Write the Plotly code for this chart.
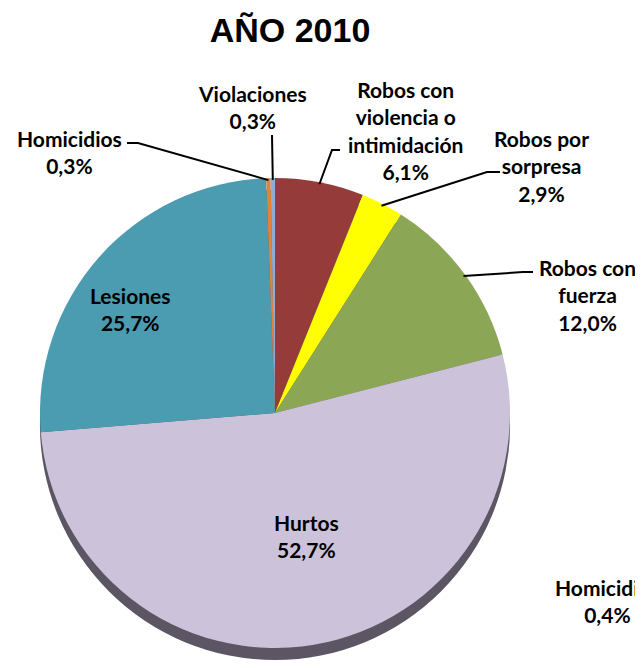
import math
import plotly.graph_objects as go

W, H = 643, 668
OFF = 8  # margen del <body> de la página

# datos del gráfico (año 2010, % sobre el total)
categorias = ["Robos con violencia o intimidación", "Robos por sorpresa", "Robos con fuerza",
              "Hurtos", "Lesiones", "Homicidios", "Violaciones"]
porcentajes = [6.1, 2.9, 12.0, 52.7, 25.7, 0.3, 0.3]
etiquetas = ["Robos con<br>violencia o<br>intimidación", "Robos por<br>sorpresa", "Robos con<br>fuerza",
             "Hurtos", "Lesiones", "Homicidios", "Violaciones"]
colores = ["#953C3A", "#FFFF00", "#8BA756", "#CCC2DA", "#4B9BB1", "#E0843C", "#94AAD6"]

# etiqueta suelta de otro gráfico, cortada en el borde
extra_nombre = "Homicidios"
extra_valor = 0.4


def pct(v):
    return f"{v:.1f}".replace(".", ",") + "%"


# geometría de la tarta (px en la captura)
cx, cy, R = 275, 413, 235
sombra = 12


def px2paper(x, y):
    return (x - OFF) / W, 1 - (y - OFF) / H


def dominio(cx, cy, r):
    x0, y1 = px2paper(cx - r, cy - r)
    x1, y0 = px2paper(cx + r, cy + r)
    return dict(x=[x0, x1], y=[y0, y1])


fig = go.Figure()

# borde inferior "3D"
fig.add_trace(go.Pie(
    values=[1], labels=["sombra"], marker=dict(colors=["#5C5664"], line=dict(width=0)),
    textinfo="none", hoverinfo="skip", sort=False, showlegend=False,
    domain=dominio(cx, cy + sombra, R),
))

fig.add_trace(go.Pie(
    values=porcentajes, labels=categorias, sort=False, direction="clockwise", rotation=0,
    marker=dict(colors=colores, line=dict(width=0)),
    textinfo="none", showlegend=False,
    domain=dominio(cx, cy, R),
))

# posición de cada etiqueta (centro, px) y guía (inicio, codo)
pos_etiqueta = {
    "Robos con violencia o intimidación": (405, 130),
    "Robos por sorpresa": (541, 166),
    "Robos con fuerza": (587, 295),
    "Hurtos": (306, 536),
    "Lesiones": (130, 309),
    "Homicidios": (69, 152),
    "Violaciones": (252, 107),
}
guias = {
    "Robos con violencia o intimidación": [(340, 150), (332, 150)],
    "Robos por sorpresa": [(500, 172), (487, 172)],
    "Robos con fuerza": [(533, 272), (523, 272)],
    "Homicidios": [(127, 143), (138, 143)],
    "Violaciones": [(272, 135)],
}

fuente = dict(family="Lato", size=21, color="#000000")

total = sum(porcentajes)
acum = 0
anotaciones = []
formas = []
for cat, val, txt in zip(categorias, porcentajes, etiquetas):
    medio = (acum + val / 2) / total * 2 * math.pi
    acum += val
    x, y = pos_etiqueta[cat]
    xp, yp = px2paper(x, y)
    anotaciones.append(dict(
        x=xp, y=yp, xref="paper", yref="paper", xanchor="center", yanchor="middle",
        showarrow=False, text=f"<b>{txt}<br>{pct(val)}</b>", align="center", font=fuente,
    ))
    if cat in guias:
        tx = cx + (R - 2) * math.sin(medio)
        ty = cy - (R - 2) * math.cos(medio)
        pts = guias[cat] + [(tx, ty)]
        path = "M " + " L ".join(f"{px2paper(a, b)[0]},{px2paper(a, b)[1]}" for a, b in pts)
        formas.append(dict(type="path", path=path, xref="paper", yref="paper",
                           line=dict(color="#000000", width=2)))

ex, ey = px2paper(553, 601)
anotaciones.append(dict(
    x=ex, y=ey, xref="paper", yref="paper", xanchor="left", yanchor="middle", showarrow=False,
    text=f"<b>{extra_nombre}<br>{pct(extra_valor)}</b>", align="center", font=fuente,
))

tx_t, ty_t = px2paper(290, 30)
fig.update_layout(
    width=W, height=H,
    margin=dict(l=0, r=0, t=0, b=0),
    paper_bgcolor="white",
    title=dict(text="<b>AÑO 2010</b>", x=tx_t, xanchor="center", y=ty_t, yanchor="middle",
               font=dict(family="Liberation Sans", size=34, color="#000000")),
    annotations=anotaciones,
    shapes=formas,
)

fig.write_html("out.html")
